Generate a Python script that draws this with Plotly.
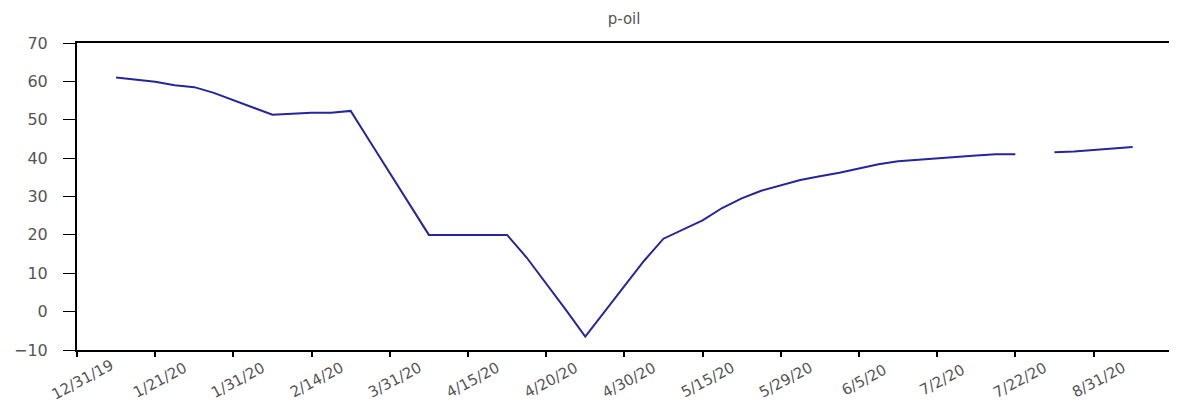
import plotly.graph_objects as go

# Observation index (4 observations per labelled tick interval)
obs = list(range(2, 55))
p_oil = [61.0, 60.5, 59.9, 59.0, 58.5, 57.0, 55.0, 53.2, 51.3, 51.5,
         51.8, 51.8, 52.3, 44.2, 36.2, 28.1, 20.0, 20.0, 20.0, 20.0,
         20.0, 14.1, 7.4, 0.5, -6.5, 0.0, 6.4, 13.2, 19.0, 21.3,
         23.8, 27.0, 29.5, 31.5, 33.0, 34.3, 35.3, 36.2, 37.3, 38.4,
         39.2, 39.6, 40.0, 40.4, 40.7, 41.0, 41.0, None, 41.5, 41.7,
         42.1, 42.5, 42.9]

tick_obs = [0, 4, 8, 12, 16, 20, 24, 28, 32, 36, 40, 44, 48, 52]
tick_labels = ["12/31/19", "1/21/20", "1/31/20", "2/14/20", "3/31/20", "4/15/20",
               "4/20/20", "4/30/20", "5/15/20", "5/29/20", "6/5/20", "7/2/20",
               "7/22/20", "8/31/20"]

fig = go.Figure()
fig.add_trace(go.Scatter(x=obs, y=p_oil, mode="lines",
                         line=dict(color="#26269c", width=2),
                         connectgaps=False, showlegend=False))

for t, lab in zip(tick_obs, tick_labels):
    fig.add_annotation(x=t, y=0, xref="x", yref="paper", text=lab,
                       showarrow=False, textangle=-28, yanchor="middle",
                       xanchor="center", yshift=-30, xshift=5,
                       font=dict(family="DejaVu Sans", size=15, color="#555555"))

fig.update_layout(
    width=1169, height=397,
    margin=dict(l=69, r=0, t=35, b=55),
    paper_bgcolor="white", plot_bgcolor="white",
    title=dict(text="p-oil", x=0.527, xanchor="center", y=0.973, yanchor="middle",
               font=dict(family="DejaVu Sans", size=15, color="#555555")),
    xaxis=dict(range=[0, 56.27], tickvals=tick_obs, ticktext=tick_labels,
               showticklabels=False, showgrid=False, zeroline=False,
               showline=True, linecolor="black", linewidth=2, mirror=True,
               ticks="outside", ticklen=5, tickwidth=2, tickcolor="black"),
    yaxis=dict(range=[-10, 70], dtick=10, tick0=0, showgrid=False, zeroline=False,
               showline=True, linecolor="black", linewidth=2,
               ticks="outside", ticklen=12, tickwidth=1, tickcolor="black",
               ticklabelstandoff=12,
               tickfont=dict(family="DejaVu Sans", size=16, color="#555555")),
)

fig.write_html("out.html")
